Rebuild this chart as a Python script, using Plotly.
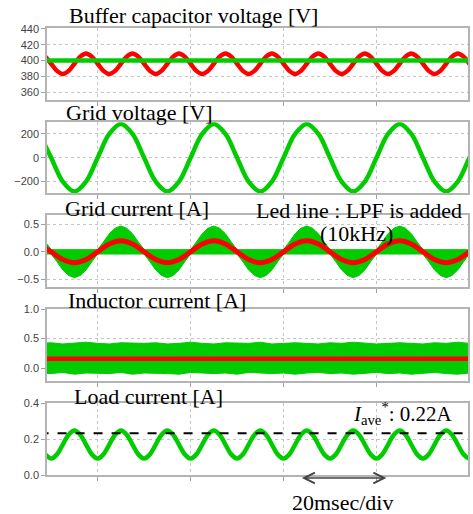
import plotly.graph_objects as go

# ---------------- data (time in ms, 0 = first vertical gridline) ----------------
t_fine = [-11.25, -10.0, -8.75, -7.5, -6.25, -5.0, -3.75, -2.5, -1.25, 0.0,
          1.25, 2.5, 3.75, 5.0, 6.25, 7.5, 8.75, 10.0, 11.25, 12.5,
          13.75, 15.0, 16.25, 17.5, 18.75, 20.0, 21.25, 22.5, 23.75, 25.0,
          26.25, 27.5, 28.75, 30.0, 31.25, 32.5, 33.75, 35.0, 36.25, 37.5,
          38.75, 40.0, 41.25, 42.5, 43.75, 45.0, 46.25, 47.5, 48.75, 50.0,
          51.25, 52.5, 53.75, 55.0, 56.25, 57.5, 58.75, 60.0, 61.25, 62.5,
          63.75, 65.0, 66.25, 67.5, 68.75, 70.0, 71.25, 72.5, 73.75, 75.0,
          76.25, 77.5, 78.75, 80.0, 81.25]

t_coarse = [-12.5, -10.0, -7.5, -5.0, -2.5, 0.0, 2.5, 5.0, 7.5, 10.0,
            12.5, 15.0, 17.5, 20.0, 22.5, 25.0, 27.5, 30.0, 32.5, 35.0,
            37.5, 40.0, 42.5, 45.0, 47.5, 50.0, 52.5, 55.0, 57.5, 60.0,
            62.5, 65.0, 67.5, 70.0, 72.5, 75.0, 77.5, 80.0, 82.5]

t_edges = [-12.5, 82.5]

# Buffer capacitor voltage [V]
cap_voltage_red = [405, 396, 387, 383, 387, 396, 405, 409,
                   405, 396, 387, 383, 387, 396, 405, 409,
                   405, 396, 387, 383, 387, 396, 405, 409,
                   405, 396, 387, 383, 387, 396, 405, 409,
                   405, 396, 387, 383, 387, 396, 405, 409,
                   405, 396, 387, 383, 387, 396, 405, 409,
                   405, 396, 387, 383, 387, 396, 405, 409,
                   405, 396, 387, 383, 387, 396, 405, 409,
                   405, 396, 387, 383, 387, 396, 405, 409,
                   405, 396, 387]
cap_voltage_green = [400, 400]

# Grid voltage [V]
grid_voltage = [200, 0, -200, -283, -200, 0, 200, 283,
                200, 0, -200, -283, -200, 0, 200, 283,
                200, 0, -200, -283, -200, 0, 200, 283,
                200, 0, -200, -283, -200, 0, 200, 283,
                200, 0, -200, -283, -200, 0, 200]

# Grid current [A] : raw (green envelope) and LPF (red)
grid_current_upper = [0.18, 0.04, 0.04, 0.04, 0.04, 0.04, 0.04, 0.04, 0.04, 0.04, 0.18, 0.33, 0.43, 0.47, 0.43, 0.33,
                      0.18, 0.04, 0.04, 0.04, 0.04, 0.04, 0.04, 0.04, 0.04, 0.04, 0.18, 0.33, 0.43, 0.47, 0.43, 0.33,
                      0.18, 0.04, 0.04, 0.04, 0.04, 0.04, 0.04, 0.04, 0.04, 0.04, 0.18, 0.33, 0.43, 0.47, 0.43, 0.33,
                      0.18, 0.04, 0.04, 0.04, 0.04, 0.04, 0.04, 0.04, 0.04, 0.04, 0.18, 0.33, 0.43, 0.47, 0.43, 0.33,
                      0.18, 0.04, 0.04, 0.04, 0.04, 0.04, 0.04, 0.04, 0.04, 0.04, 0.18]
grid_current_lower = [-0.04, -0.04, -0.18, -0.33, -0.43, -0.47, -0.43, -0.33, -0.18, -0.04, -0.04, -0.04, -0.04, -0.04, -0.04, -0.04,
                      -0.04, -0.04, -0.18, -0.33, -0.43, -0.47, -0.43, -0.33, -0.18, -0.04, -0.04, -0.04, -0.04, -0.04, -0.04, -0.04,
                      -0.04, -0.04, -0.18, -0.33, -0.43, -0.47, -0.43, -0.33, -0.18, -0.04, -0.04, -0.04, -0.04, -0.04, -0.04, -0.04,
                      -0.04, -0.04, -0.18, -0.33, -0.43, -0.47, -0.43, -0.33, -0.18, -0.04, -0.04, -0.04, -0.04, -0.04, -0.04, -0.04,
                      -0.04, -0.04, -0.18, -0.33, -0.43, -0.47, -0.43, -0.33, -0.18, -0.04, -0.04]
grid_current_lpf = [0.141, 0, -0.141, -0.2, -0.141, 0, 0.141, 0.2,
                    0.141, 0, -0.141, -0.2, -0.141, 0, 0.141, 0.2,
                    0.141, 0, -0.141, -0.2, -0.141, 0, 0.141, 0.2,
                    0.141, 0, -0.141, -0.2, -0.141, 0, 0.141, 0.2,
                    0.141, 0, -0.141, -0.2, -0.141, 0, 0.141]

# Inductor current [A]
inductor_upper = [0.42, 0.43, 0.41, 0.42, 0.44, 0.42, 0.41, 0.43, 0.42, 0.42,
                  0.43, 0.41, 0.42, 0.44, 0.42, 0.41, 0.43, 0.42, 0.42, 0.44,
                  0.41, 0.42, 0.43, 0.42, 0.41, 0.43, 0.42, 0.44, 0.42, 0.41,
                  0.42, 0.43, 0.42, 0.41, 0.43, 0.42, 0.44, 0.42, 0.42]
inductor_lower = [-0.08, -0.09, -0.07, -0.1, -0.08, -0.08, -0.09, -0.07, -0.1, -0.08,
                  -0.08, -0.09, -0.1, -0.07, -0.08, -0.09, -0.08, -0.1, -0.07, -0.08,
                  -0.09, -0.08, -0.1, -0.08, -0.07, -0.09, -0.08, -0.1, -0.08, -0.07,
                  -0.09, -0.08, -0.1, -0.08, -0.07, -0.09, -0.1, -0.08, -0.08]
inductor_lpf = [0.16, 0.16]

# Load current [A]
load_current = [0.115, 0.092, 0.115, 0.17, 0.225, 0.248, 0.225, 0.17,
                0.115, 0.092, 0.115, 0.17, 0.225, 0.248, 0.225, 0.17,
                0.115, 0.092, 0.115, 0.17, 0.225, 0.248, 0.225, 0.17,
                0.115, 0.092, 0.115, 0.17, 0.225, 0.248, 0.225, 0.17,
                0.115, 0.092, 0.115, 0.17, 0.225, 0.248, 0.225, 0.17,
                0.115, 0.092, 0.115, 0.17, 0.225, 0.248, 0.225, 0.17,
                0.115, 0.092, 0.115, 0.17, 0.225, 0.248, 0.225, 0.17,
                0.115, 0.092, 0.115, 0.17, 0.225, 0.248, 0.225, 0.17,
                0.115, 0.092, 0.115, 0.17, 0.225, 0.248, 0.225, 0.17,
                0.115, 0.092, 0.115]
load_current_avg = [0.233, 0.233]

panel_titles = ["Buffer capacitor voltage [V]", "Grid voltage [V]", "Grid current [A]",
                "Inductor current [A]", "Load current [A]"]

# ---------------- styling ----------------
GREEN = "#00cc00"
RED = "#ff0000"
SERIF = "Liberation Serif, Times New Roman, serif"
SANS = "Liberation Sans, Arial, sans-serif"
FS = 22

fig = go.Figure()

def line(x, y, color, width, ax, dash="solid", shape="spline"):
    fig.add_trace(go.Scatter(x=x, y=y, mode="lines", xaxis="x" + ax, yaxis="y" + ax,
                             line=dict(color=color, width=width, dash=dash, shape=shape),
                             showlegend=False, hoverinfo="skip"))

def band(x, lower, upper, color, ax):
    fig.add_trace(go.Scatter(x=x, y=lower, mode="lines", xaxis="x" + ax, yaxis="y" + ax,
                             line=dict(color=color, width=1), showlegend=False, hoverinfo="skip"))
    fig.add_trace(go.Scatter(x=x, y=upper, mode="lines", xaxis="x" + ax, yaxis="y" + ax,
                             fill="tonexty", fillcolor=color,
                             line=dict(color=color, width=1), showlegend=False, hoverinfo="skip"))

# panel 1
line(t_fine, cap_voltage_red, RED, 4.5, "")
line(t_edges, cap_voltage_green, GREEN, 4.5, "", shape="linear")
# panel 2
line(t_coarse, grid_voltage, GREEN, 4.5, "2")
# panel 3
band(t_fine, grid_current_lower, grid_current_upper, GREEN, "3")
line(t_coarse, grid_current_lpf, RED, 5, "3")
# panel 4
band(t_coarse, inductor_lower, inductor_upper, GREEN, "4")
line(t_edges, inductor_lpf, RED, 4.5, "4", shape="linear")
# panel 5
line(t_fine, load_current, GREEN, 4.5, "5")
line(t_edges, load_current_avg, "black", 2, "5", dash="dash", shape="linear")

H_PLOT = 447.0
def py(px):
    return (475.0 - px) / H_PLOT
def pxx(px):
    return (px - 47.0) / 423.0

domains = [[py(100), 1.0], [py(193.3), py(122.3)], [py(287.3), py(215)],
           [py(381), py(309)], [0.0, py(403.3)]]
yranges = [[350.2, 441.2], [-298, 298], [-0.645, 0.67], [-0.215, 1.0], [0.0, 0.4]]
ytickvals = [[360, 380, 400, 420, 440], [-200, 0, 200], [-0.5, 0.0, 0.5],
             [0.0, 0.5, 1.0], [0.0, 0.2, 0.4]]
yfmt = ["d", "d", ".1f", ".1f", ".1f"]

common = dict(showline=True, mirror=True, linecolor="#b4b4b4", linewidth=1.5,
              showgrid=True, gridcolor="#c4c4c4", griddash="dot", gridwidth=1,
              zeroline=False, ticks="outside", ticklen=4, tickcolor="#a0a0a0",
              tickfont=dict(family=SANS, size=11, color="#444444"))

layout = dict(width=473, height=514, margin=dict(l=47, r=3, t=28, b=39),
              plot_bgcolor="white", paper_bgcolor="white", showlegend=False)
for i in range(5):
    sfx = "" if i == 0 else str(i + 1)
    layout["xaxis" + sfx] = dict(common, domain=[0, 1], range=[-10.9, 79.7], tick0=0, dtick=20,
                                 showticklabels=False, anchor="y" + sfx)
    layout["yaxis" + sfx] = dict(common, domain=domains[i], range=yranges[i],
                                 tickvals=ytickvals[i], tickformat=yfmt[i], anchor="x" + sfx)
fig.update_layout(**layout)

title_pos = [(67, 15.7), (64, 112.3), (63, 208), (66, 300), (72, 396.5)]
annotations = []
for txt, (x0, y0) in zip(panel_titles, title_pos):
    annotations.append(dict(text=txt, xref="paper", yref="paper", x=pxx(x0), y=py(y0),
                            xanchor="left", yanchor="middle", showarrow=False,
                            font=dict(family=SERIF, size=FS, color="black")))
annotations.append(dict(text="Led line : LPF is added", xref="paper", yref="paper",
                        x=pxx(360), y=py(210), xanchor="center", yanchor="middle", showarrow=False,
                        font=dict(family=SERIF, size=FS, color="black")))
annotations.append(dict(text="(10kHz)", xref="paper", yref="paper",
                        x=pxx(358), y=py(233), xanchor="center", yanchor="middle", showarrow=False,
                        font=dict(family=SERIF, size=FS, color="black")))
annotations.append(dict(text="<i>I</i><sub>ave</sub><sup>*</sup>: 0.22A", xref="paper", yref="paper",
                        x=pxx(352), y=py(413.7), xanchor="left", yanchor="middle", showarrow=False,
                        font=dict(family=SERIF, size=21, color="black")))
annotations.append(dict(text="20msec/div", xref="paper", yref="paper",
                        x=pxx(343.5), y=py(502), xanchor="center", yanchor="middle", showarrow=False,
                        font=dict(family=SERIF, size=FS, color="black")))
annotations.append(dict(text="", xref="paper", yref="paper", x=pxx(388), y=py(478),
                        axref="pixel", ayref="pixel", ax=-86, ay=0, showarrow=True,
                        arrowside="end+start", arrowhead=5, startarrowhead=5,
                        arrowsize=1.4, startarrowsize=1.4, arrowwidth=1.5, arrowcolor="#444444",
                        standoff=0, startstandoff=0))
fig.update_layout(annotations=annotations)

fig.write_html("out.html", config={"displayModeBar": False},
               post_script="document.body.style.margin='0';document.body.style.padding='0';")
